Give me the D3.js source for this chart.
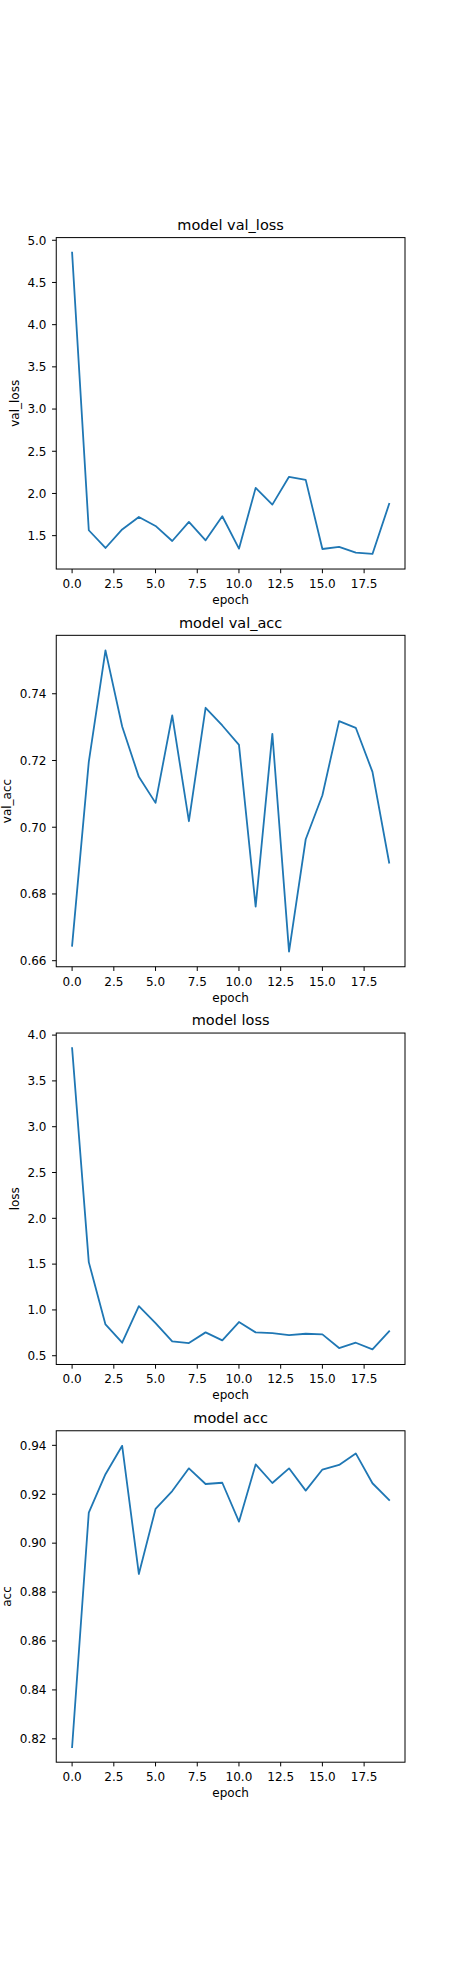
<!doctype html>
<html>
<head>
<script src="https://cdnjs.cloudflare.com/ajax/libs/d3/7.8.5/d3.min.js"></script>
<style>
body { margin: 0; background: #fff; }
text { font-family: "DejaVu Sans", sans-serif; fill: #000; }
.tick-label { font-size: 12px; }
.axis-label { font-size: 12px; }
.title { font-size: 14.5px; }
.frame { fill: none; stroke: #000; stroke-width: 1px; }
.tick { stroke: #000; stroke-width: 1px; }
.series { fill: none; stroke: #1f77b4; stroke-width: 1.8px; stroke-linejoin: round; stroke-linecap: square; }
</style>
</head>
<body>
<svg id="chart" width="450" height="1980"></svg>
<script>
var epochs = [0,1,2,3,4,5,6,7,8,9,10,11,12,13,14,15,16,17,18,19];

var valLoss = [4.853,1.564,1.354,1.574,1.722,1.615,1.437,1.663,1.445,1.730,
               1.346,2.066,1.868,2.197,2.161,1.342,1.366,1.299,1.283,1.876];
var valAcc  = [0.6645,0.7196,0.7530,0.7302,0.7151,0.7073,0.7335,0.7018,0.7358,0.7305,
               0.7247,0.6762,0.7280,0.6627,0.6964,0.7096,0.7318,0.7298,0.7166,0.6894];
var loss    = [3.858,1.522,0.842,0.642,1.042,0.857,0.656,0.638,0.755,0.667,
               0.868,0.755,0.747,0.726,0.740,0.733,0.584,0.642,0.569,0.766];
var acc     = [0.8166,0.9125,0.9282,0.9398,0.8874,0.9140,0.9213,0.9306,0.9242,0.9247,
               0.9088,0.9322,0.9246,0.9306,0.9215,0.9301,0.9320,0.9367,0.9245,0.9177];

var xTicks = [0,2.5,5,7.5,10,12.5,15,17.5];
var valLossTicks = [1.5,2.0,2.5,3.0,3.5,4.0,4.5,5.0];
var valAccTicks = [0.66,0.68,0.70,0.72,0.74];
var lossTicks = [0.5,1.0,1.5,2.0,2.5,3.0,3.5,4.0];
var accTicks = [0.82,0.84,0.86,0.88,0.90,0.92,0.94];

var panels = [
  {title: "model val_loss", ylabel: "val_loss", values: valLoss, ticks: valLossTicks, fmt: d3.format(".1f")},
  {title: "model val_acc",  ylabel: "val_acc",  values: valAcc,  ticks: valAccTicks,  fmt: d3.format(".2f")},
  {title: "model loss",     ylabel: "loss",     values: loss,    ticks: lossTicks,    fmt: d3.format(".1f")},
  {title: "model acc",      ylabel: "acc",      values: acc,     ticks: accTicks,     fmt: d3.format(".2f")}
];

// matplotlib style grid: 4 rows, default subplot params
var W = 450, H = 1980;
var left = 0.125 * W, right = 0.9 * W;
var top0 = 0.12 * H, bottom0 = 0.89 * H;
var axH = (bottom0 - top0) / (4 + 3 * 0.2);
var gap = axH * 0.2;

var svg = d3.select("#chart");
svg.append("rect").attr("width", W).attr("height", H).attr("fill", "#fff");

var x = d3.scaleLinear()
  .domain([-0.95, 19.95])
  .range([left, right]);

panels.forEach(function (p, i) {
  var top = top0 + i * (axH + gap);
  var bot = top + axH;
  var ext = d3.extent(p.values);
  var pad = (ext[1] - ext[0]) * 0.05;
  var y = d3.scaleLinear()
    .domain([ext[0] - pad, ext[1] + pad])
    .range([bot, top]);

  var g = svg.append("g");

  // line
  var line = d3.line()
    .x(function (d, j) { return x(epochs[j]); })
    .y(function (d) { return y(d); });
  g.append("path")
    .datum(p.values)
    .attr("class", "series")
    .attr("d", line);

  g.append("rect")
    .attr("class", "frame")
    .attr("x", left).attr("y", top)
    .attr("width", right - left).attr("height", axH);

  // x ticks
  var xt = g.selectAll(".xt").data(xTicks).enter().append("g");
  xt.append("line")
    .attr("class", "tick")
    .attr("x1", d => x(d)).attr("x2", d => x(d))
    .attr("y1", bot).attr("y2", bot + 4.2);
  xt.append("text")
    .attr("class", "tick-label")
    .attr("x", d => x(d))
    .attr("y", bot + 19)
    .style("text-anchor", "middle")
    .text(d => d3.format(".1f")(d));

  // y ticks
  var yt = g.selectAll(".yt").data(p.ticks).enter().append("g");
  yt.append("line")
    .attr("class", "tick")
    .attr("x1", left - 4.2).attr("x2", left)
    .attr("y1", d => y(d)).attr("y2", d => y(d));
  var labels = yt.append("text")
    .attr("class", "tick-label")
    .attr("x", left - 9.75)
    .attr("y", d => y(d))
    .attr("dy", "0.36em")
    .style("text-anchor", "end")
    .text(d => p.fmt(d));

  var maxW = 0;
  labels.each(function () { maxW = Math.max(maxW, this.getComputedTextLength()); });

  g.append("text")
    .attr("class", "axis-label")
    .attr("transform", "translate(" + (left - 9.75 - maxW - 8.7) + "," + ((top + bot) / 2) + ") rotate(-90)")
    .style("text-anchor", "middle")
    .text(p.ylabel);

  g.append("text")
    .attr("class", "axis-label")
    .attr("x", (left + right) / 2)
    .attr("y", bot + 35)
    .style("text-anchor", "middle")
    .text("epoch");

  g.append("text")
    .attr("class", "title")
    .attr("x", (left + right) / 2)
    .attr("y", top - 7.6)
    .style("text-anchor", "middle")
    .text(p.title);
});
</script>
</body>
</html>
